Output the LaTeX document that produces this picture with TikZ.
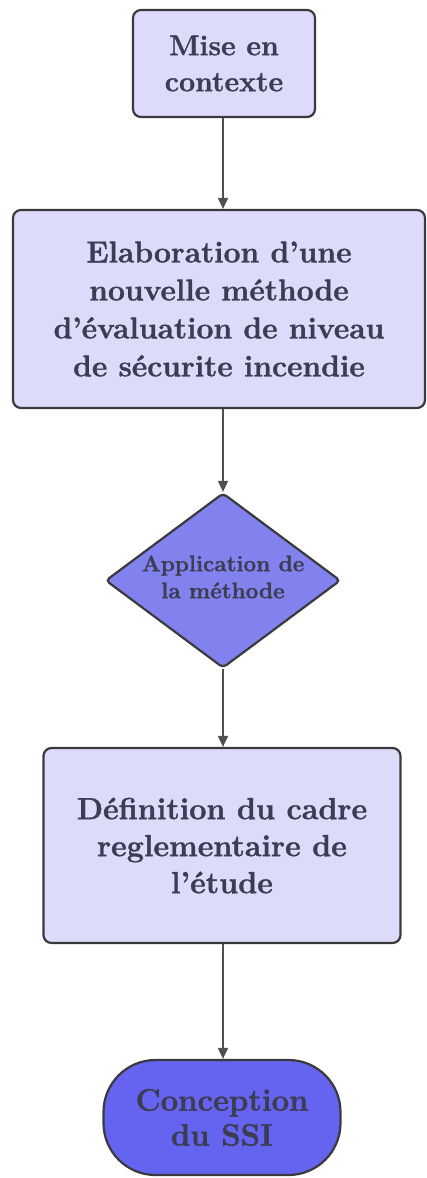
\documentclass[tikz,border=0pt]{standalone}
\usepackage{fontspec}
\setmainfont{Latin Modern Roman}[BoldFeatures={FakeBold=1.2}]
\usetikzlibrary{shapes.geometric,arrows.meta}
\definecolor{boxfill}{HTML}{DCDCFA}
\definecolor{decfill}{HTML}{8282EE}
\definecolor{endfill}{HTML}{6464F0}
\definecolor{edge}{HTML}{3A3A3E}
\definecolor{ink}{HTML}{3C3C52}
\definecolor{wire}{HTML}{505050}
% text set in a box of no size, so the shape keeps its given size
\newcommand{\flatlabel}[1]{\smash{\raisebox{-4pt}{\makebox[0pt]{\begin{tabular}{@{}c@{}}#1\end{tabular}}}}}
\tikzset{
  stepbox/.style={draw=edge, line width=2.2pt, fill=boxfill, rounded corners=8pt,
    align=center, text=ink, font=\bfseries, inner sep=0pt},
  choice/.style={diamond, draw=edge, line width=2.2pt, fill=decfill, rounded corners=4pt,
    align=center, text=ink, inner sep=0pt, font=\bfseries\fontsize{22.5}{27}\selectfont},
  finish/.style={draw=edge, line width=2.2pt, fill=endfill, rounded corners=52pt,
    align=center, text=ink, inner sep=0pt, font=\bfseries\fontsize{31}{35}\selectfont},
  flow/.style={draw=wire, line width=1.8pt, -{Triangle[length=11pt,width=10pt]}}
}
\begin{document}
\begin{tikzpicture}[x=1pt,y=-1pt]
\useasboundingbox (0,0) rectangle (426,1178);
\coordinate (spine) at (223,0);
\node[stepbox, minimum width=182pt, minimum height=107pt,
      font=\bfseries\fontsize{28.5}{36}\selectfont] (ctx) at (224,63.5)
  {Mise en\\contexte};
\node[stepbox, minimum width=412pt, minimum height=198pt,
      font=\bfseries\fontsize{30}{38}\selectfont] (meth) at (219,309)
  {Elaboration d'une\\nouvelle méthode\\d'évaluation de niveau\\de sécurite incendie};
\node[choice, minimum width=235pt, minimum height=175pt] (app) at (223,580.5)
  {\flatlabel{Application de\\la méthode}};
\node[stepbox, minimum width=357pt, minimum height=195pt,
      font=\bfseries\fontsize{30.5}{37}\selectfont] (cadre) at (222,845.5)
  {Définition du cadre\\reglementaire de\\l'étude};
\node[finish, minimum width=237pt, minimum height=115pt] (ssi) at (222,1117.5)
  {Conception\\du SSI};
\draw[flow] (ctx.south -| spine) -- (meth.north -| spine);
\draw[flow] (meth.south -| spine) -- (app.north -| spine);
\draw[flow] (app.south -| spine) -- (cadre.north -| spine);
\draw[flow] (cadre.south -| spine) -- (ssi.north -| spine);
\end{tikzpicture}
\end{document}
